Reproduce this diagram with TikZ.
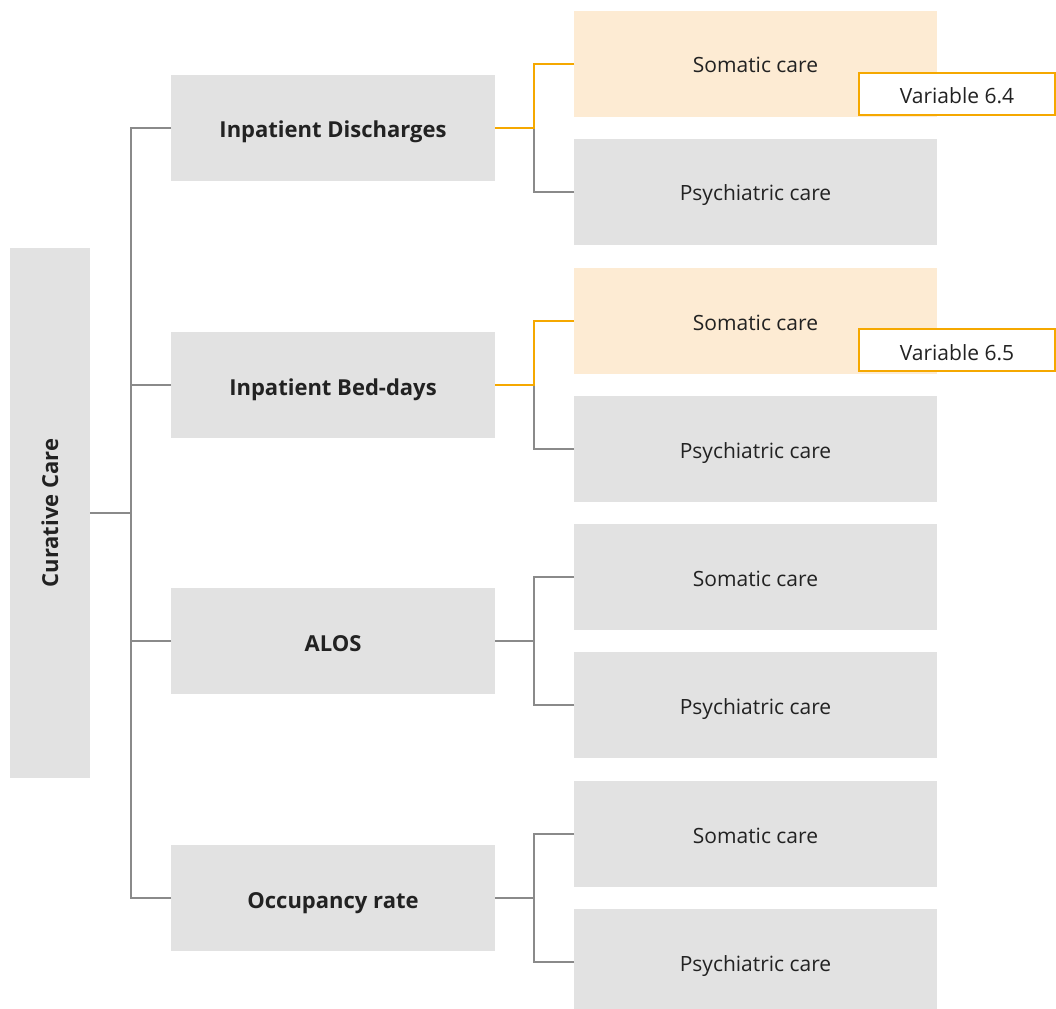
\documentclass[tikz,border=0pt]{standalone}
\usepackage{fontspec}
\setmainfont{Open Sans}
\usetikzlibrary{calc}
\definecolor{boxgray}{HTML}{E2E2E2}
\definecolor{linegray}{HTML}{8A8A8A}
\definecolor{accent}{HTML}{F5A800}
\definecolor{lightacc}{HTML}{FDEBD3}
\definecolor{txt}{HTML}{222222}
\tikzset{
  base/.style={inner sep=0pt, outer sep=0pt, text=txt, text height=21pt, text depth=3pt},
  rootbox/.style={base, fill=boxgray, minimum width=80pt, minimum height=530pt},
  midbox/.style={base, fill=boxgray, minimum width=324pt, minimum height=106pt, font=\fontsize{22}{26}\selectfont\bfseries, text height=24pt, text depth=4pt},
  leafbox/.style={base, fill=boxgray, minimum width=363pt, minimum height=106pt, font=\fontsize{21}{25}\selectfont},
  hileaf/.style={leafbox, fill=lightacc},
  varbox/.style={base, draw=accent, line width=2.5pt, fill=white, minimum width=196pt, minimum height=42pt, font=\fontsize{21}{25}\selectfont, text height=23pt, text depth=3pt},
  conn/.style={draw=linegray, line width=2.5pt},
  hiconn/.style={draw=accent, line width=2.5pt},
}
\begin{document}
\begin{tikzpicture}[x=1pt,y=-1pt]
\useasboundingbox[fill=white] (0,0) rectangle (1056,1008);
% root
\node[rootbox] (cc) at (50,513) {};
\node[base, rotate=90, font=\fontsize{22}{26}\selectfont\bfseries, text height=20pt, text depth=4pt] (cct) at (50,513) {Curative Care};
% middle
\node[midbox] (d1) at (333,128) {Inpatient Discharges};
\node[midbox] (d2) at (333,385) {Inpatient Bed-days};
\node[midbox] (d3) at (333,641) {ALOS};
\node[midbox] (d4) at (333,898) {Occupancy rate};
% leaves
\node[hileaf] (s1) at (755.5,64) {Somatic care};
\node[leafbox] (p1) at (755.5,192) {Psychiatric care};
\node[hileaf] (s2) at (755.5,321) {Somatic care};
\node[leafbox] (p2) at (755.5,449) {Psychiatric care};
\node[leafbox] (s3) at (755.5,577) {Somatic care};
\node[leafbox] (p3) at (755.5,705) {Psychiatric care};
\node[leafbox] (s4) at (755.5,834) {Somatic care};
\node[leafbox] (p4) at (755.5,962) {Psychiatric care};
% variables
\node[varbox] (v1) at (957,94) {Variable 6.4};
\node[varbox] (v2) at (957,350) {Variable 6.5};
% root connectors
\foreach \m in {d1,d2,d3,d4}{
  \draw[conn] (\m.west) -- ++(-40,0) |- (cc.east);
}
% leaf connectors
\foreach \m/\a/\b in {d1/s1/p1,d2/s2/p2,d3/s3/p3,d4/s4/p4}{
  \draw[conn] (\b.west) -| ($(\m.east)+(39,0)$) -- (\m.east);
  \draw[conn] (\a.west) -| ($(\m.east)+(39,0)$);
}
\draw[hiconn] (d1.east) -- ++(39,0) |- (s1.west);
\draw[hiconn] (d2.east) -- ++(39,0) |- (s2.west);
\end{tikzpicture}
\end{document}
